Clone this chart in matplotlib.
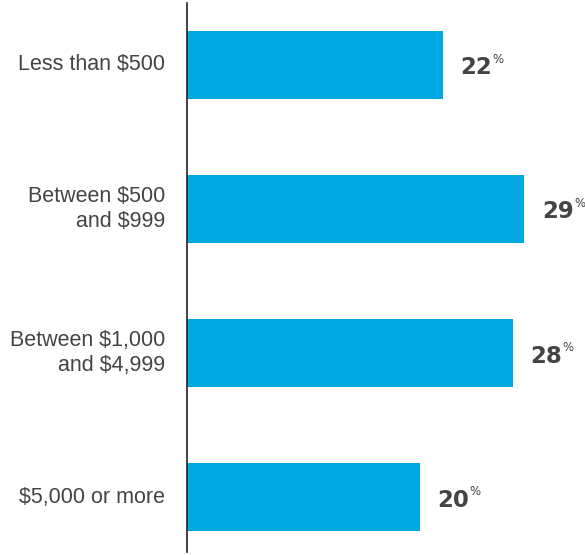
import matplotlib.pyplot as plt

categories = ['Less than $500', 'Between $500\nand $999', 'Between $1,000\nand $4,999', '$5,000 or more']
values = [22, 29, 28, 20]

bar_color = '#00a8e1'
text_color = '#444444'

fig = plt.figure(figsize=(5.85, 5.55), dpi=100)
ax = fig.add_axes([187 / 585, 3 / 555, 398 / 585, 549 / 555])

y = list(range(len(categories)))
ax.barh(y, values, height=0.47, color=bar_color, left=0)

ax.set_xlim(0, 34.2)
ax.set_ylim(3.38, -0.43)

# category labels to the left of the axis line
for yi, cat in zip(y, categories):
    ax.text(-1.9, yi, cat, ha='right', va='center', fontsize=15.5, color=text_color,
            family='Liberation Sans', linespacing=1.25)

# value labels with a small superscript percent sign
for yi, v in zip(y, values):
    t = ax.text(v + 1.5, yi + 0.02, str(v), ha='left', va='center', fontsize=16.5,
                fontweight='bold', color=text_color, family='DejaVu Sans')
    fig.canvas.draw()
    bb = t.get_window_extent()
    x_end = ax.transData.inverted().transform((bb.x1, bb.y1))[0]
    ax.text(x_end + 0.02, yi - 0.04, '%', ha='left', va='center', fontsize=8.5,
            color=text_color, family='DejaVu Sans')

for s in ['top', 'right', 'bottom']:
    ax.spines[s].set_visible(False)
ax.spines['left'].set_color('#222222')
ax.spines['left'].set_linewidth(1.2)
ax.set_xticks([])
ax.set_yticks([])

fig.savefig('out.png', dpi=100)
